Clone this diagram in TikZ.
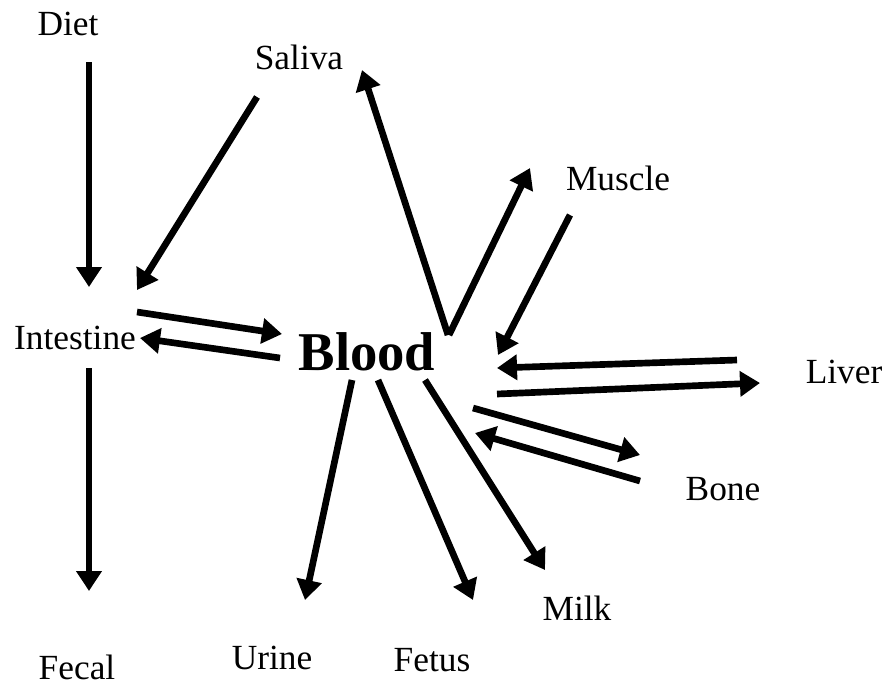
\documentclass[tikz,border=0pt]{standalone}
\usepackage{fontspec}
\setmainfont{Liberation Serif}
\usetikzlibrary{arrows.meta}
\begin{document}
\begin{tikzpicture}[x=0.75pt,y=-0.75pt,
  lbl/.style={inner sep=0pt,font=\fontsize{26.5}{30}\selectfont},
  big/.style={inner sep=0pt,font=\fontsize{41}{46}\selectfont\bfseries},
  flow/.style={line width=5pt,-{Triangle[length=15pt,width=18.5pt]}}]
\useasboundingbox (0,0) rectangle (888,687);
\node[lbl] (diet) at (68,24) {Diet};
\node[lbl] (saliva) at (299,57) {Saliva};
\node[lbl] (muscle) at (618,178) {Muscle};
\node[lbl] (intestine) at (75,338) {Intestine};
\node[big] (blood) at (367,352) {Blood};
\node[lbl] (liver) at (844,372) {Liver};
\node[lbl] (bone) at (723,489) {Bone};
\node[lbl] (milk) at (577,608) {Milk};
\node[lbl] (urine) at (272,658) {Urine};
\node[lbl] (fetus) at (432,660) {Fetus};
\node[lbl] (fecal) at (77,667) {Fecal};
% endpoints
\coordinate (dietOut) at (89,62);
\coordinate (intIn1) at (89,287);
\coordinate (intOut1) at (89,368);
\coordinate (fecalIn) at (89,591);
\coordinate (salOut) at (257,97);
\coordinate (intIn2) at (137,290);
\coordinate (bloodOutS) at (448,335);
\coordinate (salIn) at (362,70);
\coordinate (bloodOutM) at (449,335);
\coordinate (musIn) at (530,168);
\coordinate (musOut) at (570,215);
\coordinate (bloodInM) at (498,355);
\coordinate (intOut2) at (137,312);
\coordinate (bloodInI) at (282,334);
\coordinate (bloodOutI) at (280,358);
\coordinate (intIn3) at (140,338);
\coordinate (livOut) at (737,360);
\coordinate (bloodInL) at (497,368);
\coordinate (bloodOutL) at (497,394);
\coordinate (livIn) at (760,383);
\coordinate (bloodOutB) at (473,408);
\coordinate (boneIn) at (640,455);
\coordinate (boneOut) at (640,481);
\coordinate (bloodInB) at (475,433);
\coordinate (bloodOutU) at (352,380);
\coordinate (urineIn) at (305,600);
\coordinate (bloodOutF) at (378,380);
\coordinate (fetusIn) at (473,600);
\coordinate (bloodOutK) at (425,380);
\coordinate (milkIn) at (545,570);
\draw[flow] (dietOut) -- (intIn1);
\draw[flow] (intOut1) -- (fecalIn);
\draw[flow] (salOut) -- (intIn2);
\draw[flow] (bloodOutS) -- (salIn);
\draw[flow] (bloodOutM) -- (musIn);
\draw[flow] (musOut) -- (bloodInM);
\draw[flow] (intOut2) -- (bloodInI);
\draw[flow] (bloodOutI) -- (intIn3);
\draw[flow] (livOut) -- (bloodInL);
\draw[flow] (bloodOutL) -- (livIn);
\draw[flow] (bloodOutB) -- (boneIn);
\draw[flow] (boneOut) -- (bloodInB);
\draw[flow] (bloodOutU) -- (urineIn);
\draw[flow] (bloodOutF) -- (fetusIn);
\draw[flow] (bloodOutK) -- (milkIn);
\end{tikzpicture}
\end{document}
